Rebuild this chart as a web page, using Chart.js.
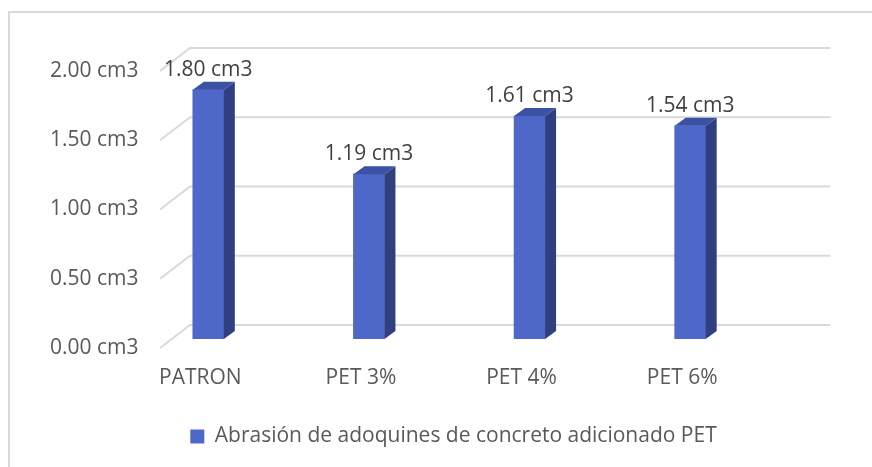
<!DOCTYPE html>
<html>
<head>
<meta charset="utf-8">
<script src="https://cdn.jsdelivr.net/npm/chart.js@4.4.1/dist/chart.umd.min.js"></script>
<style>
  html, body { margin: 0; padding: 0; background: #fff; }
  #wrap { width: 872px; height: 467px; }
</style>
</head>
<body>
<div id="wrap"><canvas id="grafico" width="872" height="467"></canvas></div>
<script>
// datos
var categorias = ["PATRON", "PET 3%", "PET 4%", "PET 6%"];
var abrasion = [1.80, 1.19, 1.61, 1.54];
var serieNombre = "Abrasión de adoquines de concreto adicionado PET";
var ejeMin = 0, ejeMax = 2, ejePaso = 0.5;

var colorFrente = "#4D68C8";
var colorLado = "#2F3F80";
var colorTapa = "#3B51A3";

// desplazamiento "3D": barras detras del eje, pared del fondo mas atras
var barraDx = 8, barraDy = -9;
var profDx = 11, profDy = -8;
var paredDx = 30, paredDy = -23;

function fmt(v) { return v.toFixed(2) + " cm3"; }

var efecto3d = {
  id: "efecto3d",
  beforeDraw: function (chart) {
    var ctx = chart.ctx;
    ctx.save();
    ctx.strokeStyle = "#d9d9d9";
    ctx.lineWidth = 2;
    ctx.strokeRect(9, 12, 900, 500);
    ctx.restore();
  },
  beforeDatasetsDraw: function (chart) {
    var ctx = chart.ctx, y = chart.scales.y, a = chart.chartArea;
    var x0 = a.left + 40, x1 = x0 + paredDx, x2 = a.right + 68;
    ctx.save();
    ctx.strokeStyle = "#d9d9d9";
    ctx.lineWidth = 2;
    y.ticks.forEach(function (t) {
      var py = y.getPixelForValue(t.value);
      ctx.beginPath();
      ctx.moveTo(x0, py);
      ctx.lineTo(x1, py + paredDy);
      ctx.lineTo(x2, py + paredDy);
      ctx.stroke();
    });
    ctx.restore();
    ctx.save();
    ctx.translate(barraDx, barraDy);
  },
  afterDatasetsDraw: function (chart) {
    var ctx = chart.ctx;
    var meta = chart.getDatasetMeta(0);
    meta.data.forEach(function (bar, i) {
      var w = bar.width, l = bar.x - w / 2, r = bar.x + w / 2;
      var top = bar.y, base = bar.base;
      ctx.fillStyle = colorLado;
      ctx.beginPath();
      ctx.moveTo(r, top);
      ctx.lineTo(r + profDx, top + profDy);
      ctx.lineTo(r + profDx, base + profDy);
      ctx.lineTo(r, base);
      ctx.closePath();
      ctx.fill();
      ctx.fillStyle = colorTapa;
      ctx.beginPath();
      ctx.moveTo(l, top);
      ctx.lineTo(l + profDx, top + profDy);
      ctx.lineTo(r + profDx, top + profDy);
      ctx.lineTo(r, top);
      ctx.closePath();
      ctx.fill();
      ctx.fillStyle = "#404040";
      ctx.font = "21px 'Open Sans'";
      ctx.textAlign = "center";
      ctx.textBaseline = "middle";
      ctx.fillText(fmt(abrasion[i]), bar.x, top - 20);
    });
    ctx.restore();
  }
};

var ctx = document.getElementById("grafico").getContext("2d");
var miGrafico = new Chart(ctx, {
  type: "bar",
  data: {
    labels: categorias,
    datasets: [{
      label: serieNombre,
      data: abrasion,
      backgroundColor: colorFrente,
      borderWidth: 0,
      barThickness: 31
    }]
  },
  options: {
    responsive: false,
    animation: false,
    devicePixelRatio: 1,
    layout: { padding: { top: 71, left: 35, right: 0, bottom: 10 } },
    plugins: {
      legend: {
        position: "bottom",
        labels: {
          boxWidth: 14,
          boxHeight: 14,
          color: "#595959",
          font: { family: "'Open Sans'", size: 21 }
        }
      },
      tooltip: { enabled: false }
    },
    scales: {
      x: {
        grid: { display: false, drawTicks: false },
        border: { display: false },
        ticks: { color: "#595959", padding: 17, font: { family: "'Open Sans'", size: 21 } },
        afterFit: function (s) { s.height = 68; }
      },
      y: {
        min: ejeMin,
        max: ejeMax,
        grid: { display: false, drawTicks: false },
        border: { display: false },
        ticks: {
          stepSize: ejePaso,
          mirror: true,
          padding: -70,
          color: "#595959",
          font: { family: "'Open Sans'", size: 21 },
          callback: function (v) { return fmt(v); }
        },
        afterFit: function (s) { s.width = 85; }
      },
      derecha: {
        position: "right",
        grid: { display: false, drawTicks: false },
        border: { display: false },
        ticks: { display: false },
        afterFit: function (s) { s.width = 109.5; }
      }
    }
  },
  plugins: [efecto3d]
});
</script>
</body>
</html>
